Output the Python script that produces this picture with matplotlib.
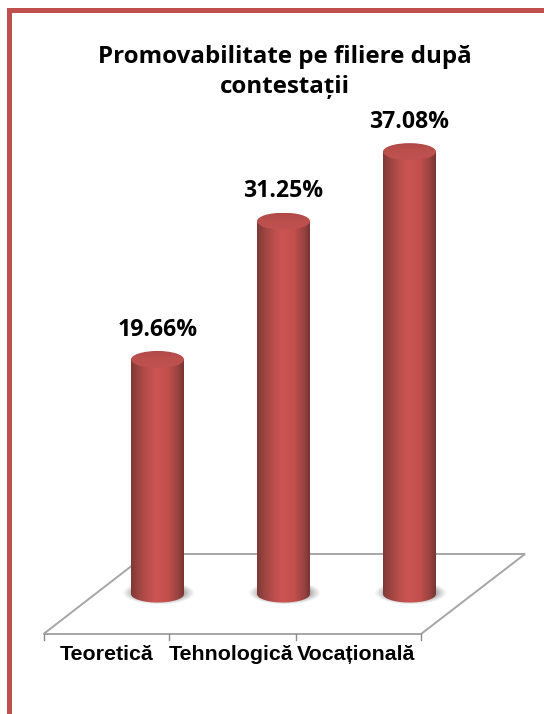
#!/usr/bin/env python3
import numpy as np
from matplotlib import pyplot as plt
from matplotlib.colors import LinearSegmentedColormap
from matplotlib.patches import Ellipse, Rectangle, Polygon, PathPatch
from matplotlib.path import Path

categories = ["Teoretică", "Tehnologică", "Vocațională"]
values = [19.66, 31.25, 37.08]
value_labels = ["19.66%", "31.25%", "37.08%"]
title = "Promovabilitate pe filiere după\ncontestații"

W, H = 544, 714
fig = plt.figure(figsize=(W / 100, H / 100), dpi=100, facecolor="white")

# background axes in pixels: border, floor, ticks
bg = fig.add_axes([0, 0, 1, 1])
bg.set_xlim(0, W)
bg.set_ylim(H, 0)
bg.axis("off")
border = "#C0504D"
bg.add_patch(Rectangle((7, 8), 5, H - 8, color=border, lw=0))
bg.add_patch(Rectangle((7, 8), W - 7, 4.5, color=border, lw=0))

floor = [(43.5, 634), (147, 554), (525, 554), (421, 634)]
bg.add_patch(Polygon(floor, closed=True, fill=False, ec="#A6A6A6", lw=1.4))
for tx in [43.5, 169, 295.5, 421]:
    bg.plot([tx, tx], [634, 640], color="#8C8C8C", lw=1)

bg.text(285, 72, title, ha="center", va="center", family="Open Sans", weight="bold",
        fontsize=17.4, linespacing=1.32, color="black")

# bars axes: x in category number, y in percent
px_per_cat = 126.0
px_per_pct = 11.93
x0_px, y0_px = 157.5, 594.0
ax = fig.add_axes([0, 0, 1, 1], facecolor="none")
ax.set_xlim(-x0_px / px_per_cat, (W - x0_px) / px_per_cat)
ax.set_ylim(-(H - y0_px) / px_per_pct, y0_px / px_per_pct)
ax.axis("off")

half_w = 26.5 / px_per_cat
cap_h = 8.5 / px_per_pct

body_cmap = LinearSegmentedColormap.from_list("body", [
    (0.0, "#7E3836"), (0.12, "#984340"), (0.32, "#BC4F4C"), (0.48, "#CC5553"),
    (0.70, "#C24F4C"), (0.90, "#96423F"), (1.0, "#763432")])
cap_cmap = LinearSegmentedColormap.from_list("cap", ["#B04A47", "#BC504D", "#C05250"])
grad = np.linspace(0, 1, 256).reshape(1, -1)

for i, (cat, v, lab) in enumerate(zip(categories, values, value_labels)):
    # soft shadow at the foot
    for k, a in zip([1.34, 1.26, 1.18, 1.1, 1.03], [0.07, 0.1, 0.12, 0.15, 0.18]):
        ax.add_patch(Ellipse((i + 0.01, 0.1), 2 * half_w * k, 2 * cap_h * k,
                             fc="#6A6A6A", ec="none", alpha=a))
    # cylinder body, clipped to rounded bottom
    t = np.linspace(np.pi, 2 * np.pi, 60)
    xs = i + half_w * np.cos(t)
    ys = cap_h * np.sin(t)
    verts = list(zip(xs, ys)) + [(i + half_w, v), (i - half_w, v), (i - half_w, 0)]
    codes = [Path.MOVETO] + [Path.LINETO] * (len(verts) - 2) + [Path.CLOSEPOLY]
    clip = PathPatch(Path(verts, codes), transform=ax.transData, fc="none", ec="none")
    ax.add_patch(clip)
    im = ax.imshow(grad, cmap=body_cmap, aspect="auto", zorder=3,
                   extent=(i - half_w, i + half_w, -cap_h, v), interpolation="bilinear")
    im.set_clip_path(clip)
    # top cap
    cap = Ellipse((i, v), 2 * half_w, 2 * cap_h, transform=ax.transData, fc="none", ec="none")
    ax.add_patch(cap)
    cim = ax.imshow(np.linspace(0, 1, 64).reshape(-1, 1), cmap=cap_cmap, aspect="auto", zorder=4,
                    extent=(i - half_w, i + half_w, v - cap_h, v + cap_h))
    cim.set_clip_path(cap)
    ax.text(i, v + 2.5, lab, ha="center", va="center", family="Open Sans",
            weight="bold", fontsize=16.6, color="black", zorder=5)

ax.set_xlim(-x0_px / px_per_cat, (W - x0_px) / px_per_cat)
ax.set_ylim(-(H - y0_px) / px_per_pct, y0_px / px_per_pct)

for cat, lx in zip(categories, [106.5, 231.5, 356.5]):
    bg.text(lx, 655, cat, ha="center", va="center", family="Liberation Sans",
            weight="bold", fontsize=15.4, color="black")

fig.savefig("out.png", dpi=100)
